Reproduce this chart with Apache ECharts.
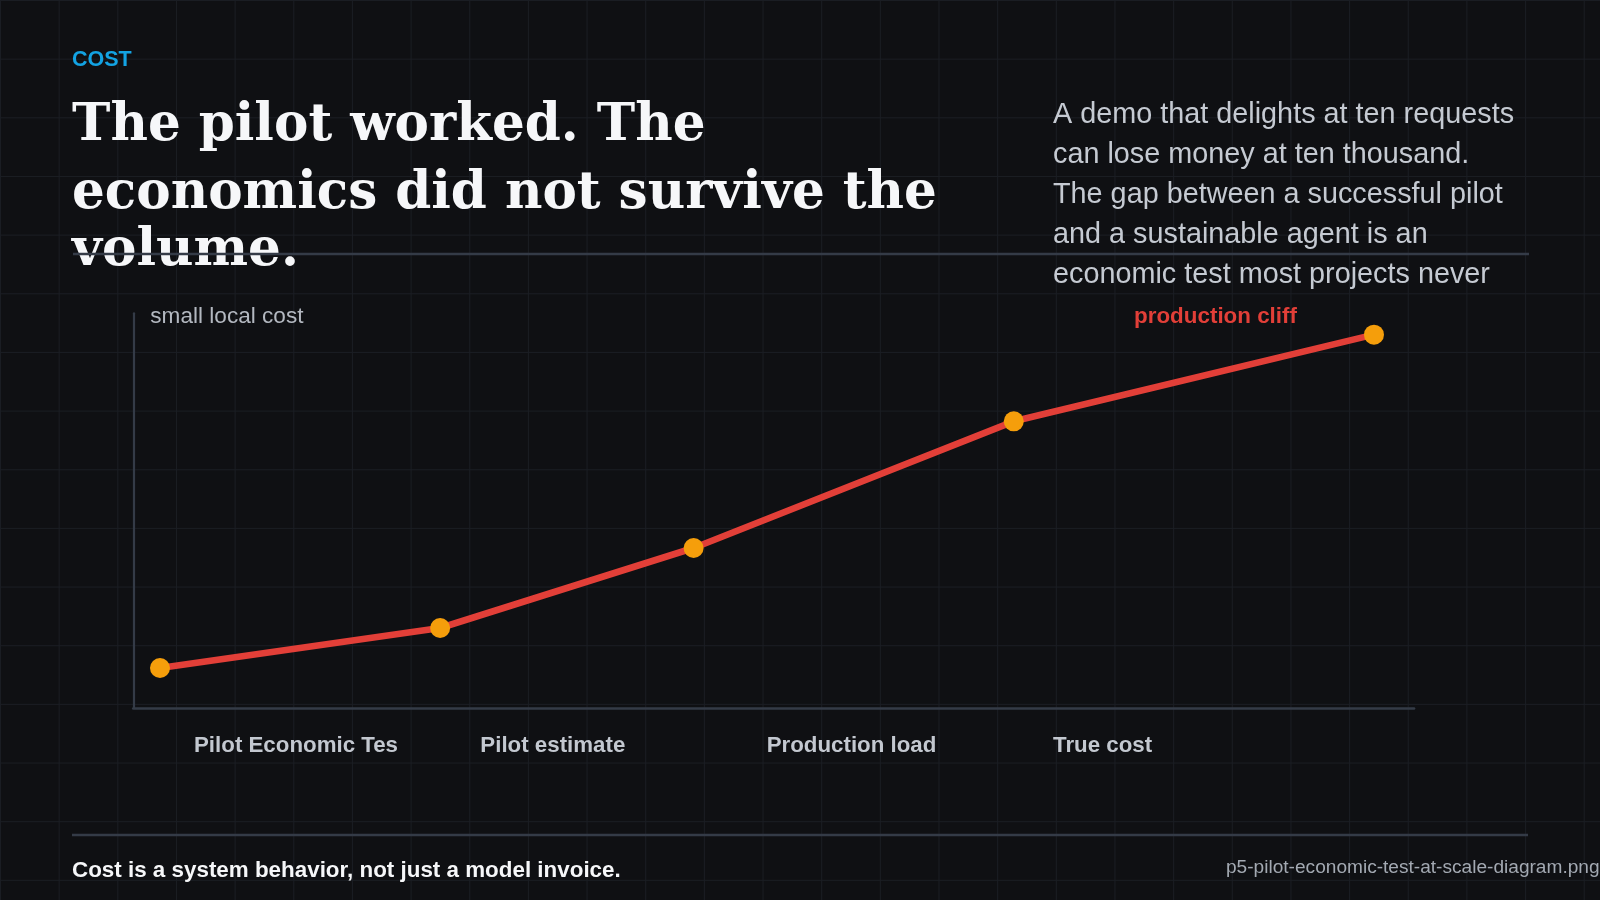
<!DOCTYPE html>
<html>
<head>
<meta charset="utf-8">
<title>Pilot economic test at scale</title>
<script src="https://cdn.jsdelivr.net/npm/echarts@6/dist/echarts.min.js"></script>
<style>
  html, body { margin: 0; padding: 0; background: #0f1013; }
  #chart {
    width: 1600px;
    height: 900px;
    background-color: #0f1013;
    background-image:
      linear-gradient(to right, #1a1d23 1px, transparent 1px),
      linear-gradient(to bottom, #1a1d23 1px, transparent 1px);
    background-size: 58.667px 58.667px;
  }
</style>
</head>
<body>
<div id="chart"></div>
<script>
// 数据
const volumeSteps = [20, 230, 420, 660, 930]
const costValues = [30, 60, 120, 215, 280]
const stageLabels = ['Pilot Economic Tes', 'Pilot estimate', 'Production load', 'True cost']
const titleLines = ['The pilot worked. The', 'economics did not survive the', 'volume.']
const noteLines = [
  'A demo that delights at ten requests',
  'can lose money at ten thousand.',
  'The gap between a successful pilot',
  'and a sustainable agent is an',
  'economic test most projects never'
]

const sans = '"Liberation Sans", Arial, Helvetica, sans-serif'
const serif = '"DejaVu Serif", Georgia, serif'
const axisColor = '#343b47'

const chart = echarts.init(document.getElementById('chart'), null, { renderer: 'canvas' })

// 标题每行单独放
const titleBaselines = [148, 216, 273]
const titleTexts = titleLines.map((line, i) => ({
  type: 'text',
  left: 72,
  top: titleBaselines[i] - 47,
  z: 10,
  style: {
    text: line,
    fill: '#f6f7f9',
    font: 'bold 51.6px ' + serif
  }
}))

const option = {
  animation: false,
  backgroundColor: 'transparent',
  graphic: [
    {
      type: 'text',
      left: 72,
      top: 49,
      style: { text: 'COST', fill: '#13a3e3', font: 'bold 21.5px ' + sans }
    },
    ...titleTexts,
    {
      type: 'text',
      left: 1053,
      top: 95,
      z: 10,
      style: {
        text: noteLines.join('\n'),
        fill: '#c5cad2',
        font: '28.8px ' + sans,
        lineHeight: 40
      }
    },
    // 分割线
    {
      type: 'line',
      z: 20,
      shape: { x1: 73, y1: 254, x2: 1529, y2: 254 },
      style: { stroke: axisColor, lineWidth: 2.5 }
    },
    {
      type: 'line',
      z: 20,
      shape: { x1: 72, y1: 835, x2: 1528, y2: 835 },
      style: { stroke: axisColor, lineWidth: 2.5 }
    },
    {
      type: 'text',
      left: 72,
      top: 860,
      style: { text: 'Cost is a system behavior, not just a model invoice.', fill: '#f6f7f9', font: 'bold 22.4px ' + sans }
    },
    {
      type: 'text',
      left: 1226,
      top: 858,
      style: { text: 'p5-pilot-economic-test-at-scale-diagram.png', fill: '#a3a9b2', font: '19.1px ' + sans }
    }
  ],
  grid: [
    { left: 133.3, top: 313.3, width: 1280.7, height: 394.7 },
    { left: 194, top: 700, width: 859, height: 10 }
  ],
  xAxis: [
    {
      type: 'value',
      gridIndex: 0,
      min: 0,
      max: 960,
      axisLine: { show: true, lineStyle: { color: axisColor, width: 2.7 } },
      axisTick: { show: false },
      axisLabel: { show: false },
      splitLine: { show: false }
    },
    {
      type: 'category',
      gridIndex: 1,
      boundaryGap: false,
      data: stageLabels,
      axisLine: { show: false },
      axisTick: { show: false },
      splitLine: { show: false },
      axisLabel: {
        interval: 0,
        align: 'left',
        verticalAlign: 'middle',
        margin: 36,
        color: '#c3c8d0',
        fontFamily: sans,
        fontWeight: 'bold',
        fontSize: 22.3
      }
    }
  ],
  yAxis: [
    {
      type: 'value',
      gridIndex: 0,
      min: 0,
      max: 296,
      name: 'small local cost',
      nameLocation: 'end',
      nameGap: -3,
      nameTextStyle: {
        align: 'left',
        verticalAlign: 'middle',
        padding: [0, 0, 0, 17],
        color: '#b3b8c0',
        fontFamily: sans,
        fontSize: 22.6
      },
      axisLine: { show: true, lineStyle: { color: axisColor, width: 2.2 } },
      axisTick: { show: false },
      axisLabel: { show: false },
      splitLine: { show: false }
    },
    { type: 'value', gridIndex: 1, show: false }
  ],
  series: [
    {
      type: 'line',
      xAxisIndex: 0,
      yAxisIndex: 0,
      data: volumeSteps.map((x, i) => {
        const item = { value: [x, costValues[i]] }
        if (i === volumeSteps.length - 1) {
          item.label = {
            show: true,
            formatter: 'production cliff',
            position: 'left',
            distance: 67,
            offset: [0, -18],
            color: '#e23f38',
            fontFamily: sans,
            fontWeight: 'bold',
            fontSize: 22.4
          }
        }
        return item
      }),
      symbol: 'circle',
      symbolSize: 20,
      showAllSymbol: true,
      lineStyle: { color: '#e23f38', width: 6.6 },
      itemStyle: { color: '#f59e0b' },
      emphasis: { disabled: true },
      silent: true
    }
  ]
}

chart.setOption(option)
</script>
</body>
</html>
